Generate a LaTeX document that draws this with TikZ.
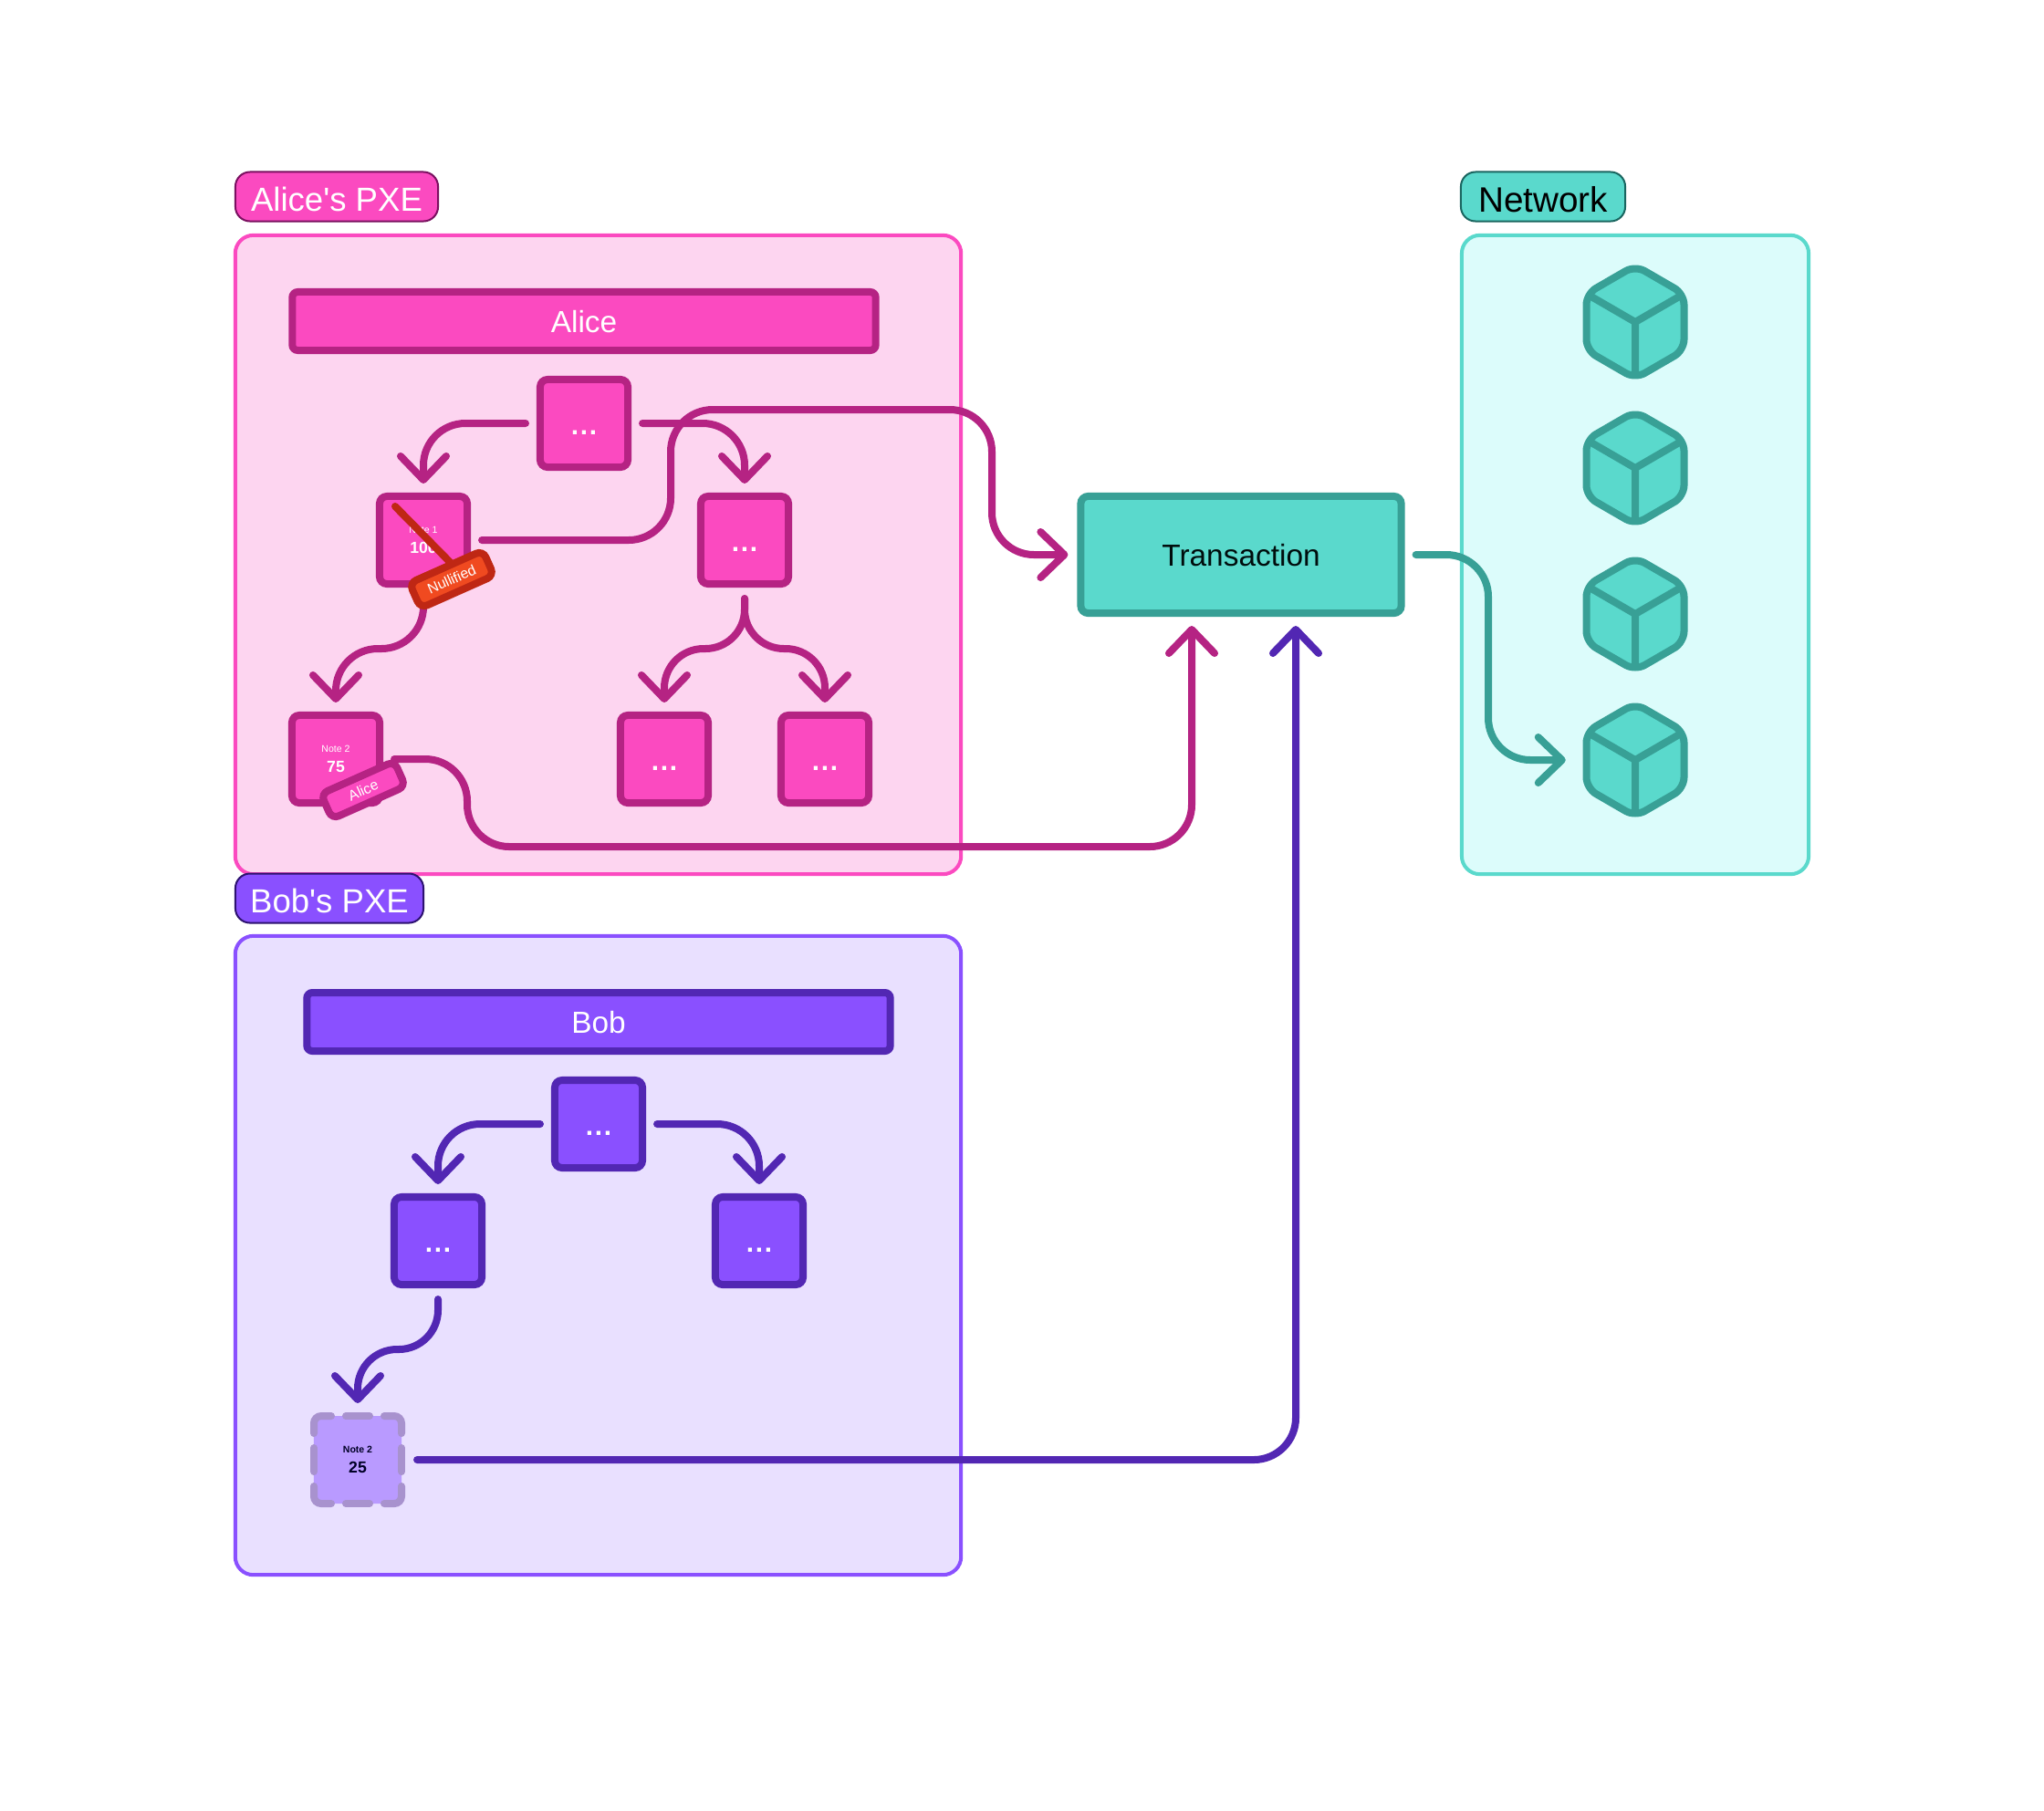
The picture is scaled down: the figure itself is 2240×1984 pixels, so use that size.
\documentclass[tikz,border=0pt]{standalone}
\usepackage{fontspec}
\setmainfont{Liberation Sans}
\usetikzlibrary{arrows.meta}

\begin{document}
\begin{tikzpicture}[x=0.01cm, y=-0.01cm,
    panel/.style={draw, line width=0.04cm, rounded corners=0.2cm},
    tag/.style={draw, line width=0.02cm, rounded corners=0.16cm, minimum height=0.54cm, text height=0.32cm, text depth=0cm, inner ysep=0pt, font=\fontsize{10.4}{12}\selectfont},
    bar/.style={draw, line width=0.08cm, rounded corners=0.06cm, minimum width=6.39cm, minimum height=0.64cm, text height=0.25cm, text depth=0cm, inner ysep=0pt, text=white, font=\fontsize{9.5}{11}\selectfont},
    box/.style={draw, line width=0.08cm, rounded corners=0.08cm, minimum size=0.96cm, inner sep=0pt, text=white},
    dotbox/.style={box, text height=0.24cm, text depth=0cm, font=\fontsize{8.5}{12}\selectfont\bfseries},
    notebox/.style={box, align=center, font=\fontsize{3}{6.2}\selectfont},
    sticker/.style={draw, line width=0.08cm, rounded corners=0.08cm, minimum width=0.88cm, minimum height=0.3cm, inner sep=0pt, rotate=24, text=white, font=\fontsize{4.5}{5}\selectfont},
    link/.style={line width=0.08cm, line cap=round, rounded corners=0.46cm, shorten <=0.12cm, shorten >=0.1cm,
        -{Straight Barb[length=0.26cm, width=0.5cm, line width=0.08cm, round]}},
    tightlink/.style={link, rounded corners=0.43cm}
]
    \def\dots{.\kern0.5pt.\kern0.5pt.}

    \definecolor{fillColourA}{HTML}{FB4AC0}
    \definecolor{borderColourA}{HTML}{B52383}
    \definecolor{panelColourA}{HTML}{FDD5F0}
    \definecolor{tagColourA}{HTML}{7A1060}
    \definecolor{fillColourB}{HTML}{8A50FF}
    \definecolor{borderColourB}{HTML}{5227B3}
    \definecolor{panelColourB}{HTML}{E9E0FF}
    \definecolor{tagColourB}{HTML}{2D1270}
    \definecolor{noteColourB}{HTML}{B99AFF}
    \definecolor{noteBorderB}{HTML}{A892CE}
    \definecolor{fillColourN}{HTML}{5AD9CC}
    \definecolor{borderColourN}{HTML}{38A096}
    \definecolor{panelColourN}{HTML}{DCFCFB}
    \definecolor{tagColourN}{HTML}{1A6660}
    \definecolor{fillColourR}{HTML}{F04A20}
    \definecolor{borderColourR}{HTML}{BF2714}

    \useasboundingbox (0,0) rectangle (2240,1984);
    \fill[white] (0,0) rectangle (2240,1984);

    % Panels and their tags
    \node[panel, draw=fillColourA, fill=panelColourA, minimum width=7.95cm, minimum height=7cm] (alicepanel) at (655.5,608) {};
    \node[panel, draw=fillColourB, fill=panelColourB, minimum width=7.95cm, minimum height=7cm] (bobpanel) at (655.5,1376) {};
    \node[panel, draw=fillColourN, fill=panelColourN, minimum width=3.8cm, minimum height=7cm] (netpanel) at (1792,608) {};
    \node[tag, draw=tagColourA, fill=fillColourA, text=white, minimum width=2.22cm] (alicetag) at (369,215.5) {Alice\textquotesingle s PXE};
    \node[tag, draw=tagColourB, fill=fillColourB, text=white, minimum width=2.06cm] (bobtag) at (361,984.5) {Bob\textquotesingle s PXE};
    \node[tag, draw=tagColourN, fill=fillColourN, text=black, minimum width=1.80cm, text height=0.34cm, font=\fontsize{11}{12}\selectfont] (nettag) at (1691,215.5) {Network};

    % Alice's tree
    \tikzset{box/.append style={draw=borderColourA, fill=fillColourA}}
    \node[bar, draw=borderColourA, fill=fillColourA] (alice) at (640,352) {Alice};
    \node[dotbox] (atop) at (640,464) {\dots};
    \node[notebox] (aleft) at (464,592) {Note 1\\{\fontsize{5}{6.2}\selectfont\bfseries 100}};
    \node[dotbox] (aright) at (816,592) {\dots};
    \node[notebox] (anote) at (368,832) {Note 2\\{\fontsize{5}{6.2}\selectfont\bfseries 75}};
    \node[dotbox] (achildl) at (728,832) {\dots};
    \node[dotbox] (achildr) at (904,832) {\dots};

    % Bob's tree
    \tikzset{box/.append style={draw=borderColourB, fill=fillColourB}}
    \node[bar, draw=borderColourB, fill=fillColourB] (bob) at (656,1120) {Bob};
    \node[dotbox] (btop) at (656,1232) {\dots};
    \node[dotbox] (bleft) at (480,1360) {\dots};
    \node[dotbox] (bright) at (832,1360) {\dots};
    \node[notebox, draw=none, outer sep=0pt, fill=noteColourB, text=black!85!blue] (bnote) at (392,1600) {\textbf{Note 2}\\{\fontsize{5}{6.2}\selectfont\bfseries 25}};
    \foreach \r in {0,90,180,270} {
        \begin{scope}[shift={(392,1600)}, rotate=\r]
            \draw[noteBorderB, line width=0.08cm, line cap=round, rounded corners=0.08cm] (29,-48) -- (48,-48) -- (48,-29);
            \draw[noteBorderB, line width=0.08cm, line cap=round] (-13,-48) -- (13,-48);
        \end{scope}
    }

    % Transaction
    \node[box, draw=borderColourN, fill=fillColourN, text=black!90!teal, minimum width=3.51cm, minimum height=1.28cm, text height=0.24cm, text depth=0cm, font=\fontsize{9.5}{11}\selectfont] (tx) at (1360,608) {Transaction};
    \coordinate (txinA) at (1306,676);
    \coordinate (txinB) at (1420,676);

    % Blocks
    \foreach \i/\y in {1/353,2/513,3/673,4/833} {
        \begin{scope}[shift={(1792,\y)}]
            \node[inner sep=0pt, minimum size=1.15cm] (block\i) at (0,0) {};
            \draw[draw=borderColourN, fill=fillColourN, line width=0.08cm, rounded corners=0.12cm]
                (0,-62) -- (53.5,-31) -- (53.5,31) -- (0,62) -- (-53.5,31) -- (-53.5,-31) -- cycle;
            \draw[borderColourN, line width=0.08cm] (-50,-29) -- (0,0) -- (50,-29) (0,0) -- (0,58);
        \end{scope}
    }

    % Alice's links
    \draw[link, borderColourA] (atop.west) -- (atop.west -| aleft.north) -- (aleft.north);
    \draw[link, borderColourA] (atop.east) -- (atop.east -| aright.north) -- (aright.north);
    \draw[link, borderColourA] (aleft.south) -- (464,711) -- (368,711) -- (anote.north);
    \draw[tightlink, borderColourA] (aright.south) -- (816,711) -- (728,711) -- (achildl.north);
    \draw[tightlink, borderColourA] (aright.south) -- (816,711) -- (904,711) -- (achildr.north);
    \draw[link, borderColourA] (aleft.east) -- (735,592) -- (735,449) -- (1087,449) -- (1087,608) -- (tx.west);
    \draw[link, borderColourA] (anote.east) -- (512,832) -- (512,928) -- (1306,928) -- (txinA);

    % Bob's links
    \draw[link, borderColourB] (btop.west) -- (btop.west -| bleft.north) -- (bleft.north);
    \draw[link, borderColourB] (btop.east) -- (btop.east -| bright.north) -- (bright.north);
    \draw[tightlink, borderColourB, shorten >=0.14cm] (bleft.south) -- (480,1479) -- (392,1479) -- (bnote.north);
    \draw[link, borderColourB, shorten <=0.17cm] (bnote.east) -- (1420,1600) -- (txinB);

    % Link to the chain
    \draw[link, borderColourN, shorten >=0.18cm] (tx.east) -- (1631,608) -- (1631,833) -- (block4.west);

    % Stickers
    \draw[borderColourR, line width=0.08cm, line cap=round] (433,555) -- (495,618);
    \node[sticker, draw=borderColourR, fill=fillColourR] (nullified) at (495,635) {Nullified};
    \node[sticker, draw=borderColourA, fill=fillColourA] (owner) at (398,866) {Alice};
\end{tikzpicture}
\end{document}
